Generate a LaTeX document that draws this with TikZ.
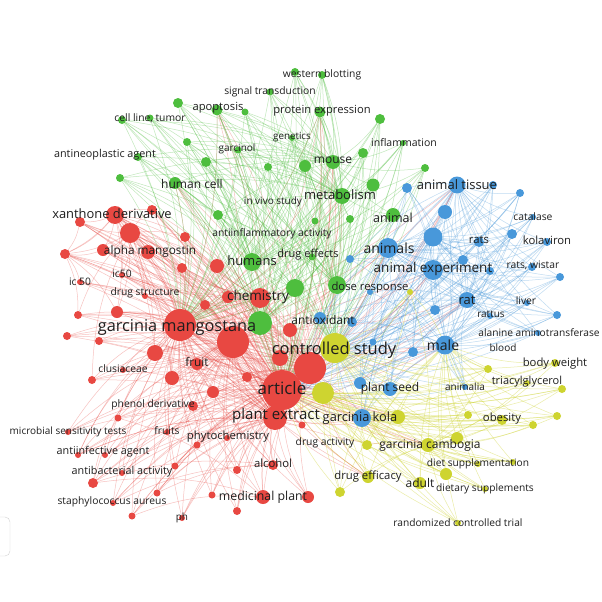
\documentclass[tikz,border=0pt]{standalone}
\usepackage{fontspec}
\setmainfont{Open Sans}
\pgfdeclarelayer{bg}
\pgfsetlayers{bg,main}
\definecolor{cR}{RGB}{232,72,66}
\definecolor{cG}{RGB}{78,190,62}
\definecolor{cB}{RGB}{72,152,218}
\definecolor{cY}{RGB}{206,212,48}
\definecolor{cT}{RGB}{30,30,30}
\newcommand\fsz[1]{\fontsize{#1}{#1}\selectfont}
\tikzset{
 dR/.style={circle,fill=cR,inner sep=0pt,minimum size=2*#1},
 dG/.style={circle,fill=cG,inner sep=0pt,minimum size=2*#1},
 dB/.style={circle,fill=cB,inner sep=0pt,minimum size=2*#1},
 dY/.style={circle,fill=cY,inner sep=0pt,minimum size=2*#1},
 lb/.style={text=cT,inner sep=0pt,font=\fsz{#1}},
 eR/.style={draw=cR,opacity=.33,line width=.5pt},
 eG/.style={draw=cG,opacity=.35,line width=.5pt},
 eB/.style={draw=cB,opacity=.35,line width=.5pt},
 eY/.style={draw=cY,opacity=.42,line width=.5pt},
}
\begin{document}
\begin{tikzpicture}[x=1pt,y=-1pt]
\useasboundingbox (0,0) rectangle (602,602);
% green nodes
\node[dG=4] (g1) at (322,75) {};
\node[dG=4] (g1b) at (295,72) {};
\node[dG=3.5] (g2) at (270,92) {};
\node[dG=5.5] (g3) at (217,110) {};
\node[dG=3.5] (g3b) at (245,112) {};
\node[dG=5] (g4) at (178,103) {};
\node[dG=5.5] (g5) at (320,112) {};
\node[dG=5] (g6) at (380,119) {};
\node[dG=4] (g7) at (122,120) {};
\node[dG=3.5] (g8) at (150,118) {};
\node[dG=3] (g9) at (292,138) {};
\node[dG=3] (g10) at (403,143) {};
\node[dG=3.5] (g11) at (238,150) {};
\node[dG=4] (g12) at (187,142) {};
\node[dG=4] (g13) at (138,157) {};
\node[dG=5] (g14) at (206,162) {};
\node[dG=4] (g15) at (268,167) {};
\node[dG=6] (g16) at (305,166) {};
\node[dG=7] (g17) at (333,162) {};
\node[dG=5] (g18) at (363,153) {};
\node[dG=4] (g19) at (425,168) {};
\node[dG=4] (g20) at (120,178) {};
\node[dG=6] (g21) at (175,183) {};
\node[dG=6.5] (g22) at (373,185) {};
\node[dG=8] (g23) at (342,196) {};
\node[dG=7] (g25) at (393,215) {};
\node[dG=4] (g26) at (350,219) {};
\node[dG=3.5] (g27) at (315,221) {};
\node[dG=5] (g28) at (218,215) {};
\node[dG=3.5] (g29) at (312,257) {};
\node[dG=9] (g30) at (252,262) {};
\node[dG=9] (g31) at (295,288) {};
\node[dG=9] (g32) at (337,285) {};
\node[dG=12] (g33) at (260,323) {};
% blue nodes
\node[dB=5] (b1) at (407,188) {};
\node[dB=8.5] (b2) at (457,185) {};
\node[dB=4] (b3) at (493,185) {};
\node[dB=4] (b4) at (520,193) {};
\node[dB=3] (b5) at (533,217) {};
\node[dB=7] (b6) at (445,212) {};
\node[dB=9.5] (b7) at (433,237) {};
\node[dB=5] (b8) at (512,234) {};
\node[dB=5] (b9) at (479,242) {};
\node[dB=4] (b10) at (547,242) {};
\node[dB=10] (b11) at (388,248) {};
\node[dB=4] (b12) at (350,259) {};
\node[dB=5] (b13) at (463,260) {};
\node[dB=10] (b14) at (433,270) {};
\node[dB=4] (b15) at (490,271) {};
\node[dB=4] (b16) at (532,267) {};
\node[dB=4] (b17) at (560,277) {};
\node[dB=3] (b18) at (370,292) {};
\node[dB=8] (b19) at (467,300) {};
\node[dB=3] (b20) at (527,303) {};
\node[dB=4] (b21) at (557,315) {};
\node[dB=5] (b22) at (435,310) {};
\node[dB=3] (b23) at (490,316) {};
\node[dB=6] (b24) at (320,318) {};
\node[dB=5] (b25) at (352,322) {};
\node[dB=3] (b26) at (538,333) {};
\node[dB=3.5] (b27) at (373,342) {};
\node[dB=5] (b28) at (413,352) {};
\node[dB=9.5] (b29) at (445,345) {};
\node[dB=6] (b30) at (360,383) {};
\node[dB=7] (b31) at (390,389) {};
\node[dB=3] (b32) at (465,387) {};
\node[dB=9] (b33) at (362,418) {};
% yellow nodes
\node[dY=3] (y1) at (410,292) {};
\node[dY=15] (y2) at (335,348) {};
\node[dY=11] (y3) at (323,393) {};
\node[dY=4] (y4) at (555,363) {};
\node[dY=4] (y5) at (488,369) {};
\node[dY=3] (y6) at (527,383) {};
\node[dY=4] (y7) at (562,389) {};
\node[dY=7] (y8) at (398,417) {};
\node[dY=4] (y9) at (468,415) {};
\node[dY=5] (y10) at (502,420) {};
\node[dY=4] (y11) at (557,416) {};
\node[dY=4] (y12) at (533,425) {};
\node[dY=5] (y13) at (367,445) {};
\node[dY=7] (y14) at (428,445) {};
\node[dY=6] (y15) at (457,438) {};
\node[dY=3] (y16) at (478,464) {};
\node[dY=3] (y17) at (513,462) {};
\node[dY=6] (y18) at (368,477) {};
\node[dY=6] (y19) at (420,483) {};
\node[dY=6] (y20) at (446,474) {};
\node[dY=3] (y21) at (485,489) {};
\node[dY=5] (y22) at (340,492) {};
\node[dY=3] (y23) at (458,523) {};
% red nodes
\node[dR=9] (r1) at (115,215) {};
\node[dR=5] (r2) at (80,222) {};
\node[dR=5] (r3) at (152,210) {};
\node[dR=10] (r4) at (130,233) {};
\node[dR=5] (r5) at (185,237) {};
\node[dR=6] (r6) at (103,250) {};
\node[dR=7] (r7) at (148,252) {};
\node[dR=5] (r8) at (65,254) {};
\node[dR=3] (r9) at (122,275) {};
\node[dR=3] (r10) at (80,282) {};
\node[dR=5] (r11) at (182,268) {};
\node[dR=7] (r12) at (217,266) {};
\node[dR=3] (r13) at (145,296) {};
\node[dR=6] (r14) at (228,297) {};
\node[dR=10] (r15) at (260,298) {};
\node[dR=5] (r16) at (205,305) {};
\node[dR=6] (r17) at (117,312) {};
\node[dR=4] (r18) at (78,315) {};
\node[dR=4] (r19) at (67,336) {};
\node[dR=4] (r20) at (99,341) {};
\node[dR=16] (r21) at (180,325) {};
\node[dR=16] (r22) at (233,342) {};
\node[dR=7] (r23) at (290,330) {};
\node[dR=8] (r24) at (155,353) {};
\node[dR=6] (r25) at (197,364) {};
\node[dR=3] (r26) at (123,370) {};
\node[dR=4] (r27) at (92,380) {};
\node[dR=7] (r28) at (172,378) {};
\node[dR=5] (r29) at (247,377) {};
\node[dR=6] (r30) at (213,392) {};
\node[dR=16] (r31) at (310,368) {};
\node[dR=8] (r32) at (280,358) {};
\node[dR=20] (r33) at (282,390) {};
\node[dR=5] (r34) at (193,406) {};
\node[dR=12] (r35) at (275,418) {};
\node[dR=3.5] (r36) at (118,418) {};
\node[dR=3] (r37) at (167,432) {};
\node[dR=3.5] (r38) at (302,425) {};
\node[dR=3.5] (r39) at (197,445) {};
\node[dR=3] (r40) at (227,438) {};
\node[dR=3] (r41) at (78,455) {};
\node[dR=3] (r42) at (105,455) {};
\node[dR=5] (r43) at (273,465) {};
\node[dR=3.5] (r44) at (175,466) {};
\node[dR=4] (r45) at (237,470) {};
\node[dR=3] (r46) at (122,473) {};
\node[dR=5] (r47) at (93,483) {};
\node[dR=3.5] (r48) at (157,493) {};
\node[dR=3.5] (r49) at (212,495) {};
\node[dR=7] (r50) at (263,497) {};
\node[dR=6] (r51) at (308,497) {};
\node[dR=3] (r52) at (113,503) {};
\node[dR=3.5] (r53) at (132,516) {};
\node[dR=4] (r54) at (237,511) {};
\node[dR=3] (r55) at (182,518) {};
\node[dR=3] (r56) at (68,432) {};
% background and edges
\begin{pgfonlayer}{bg}
\fill[white] (0,0) rectangle (602,602);
\draw[gray!35,rounded corners=5pt] (-10,517) rectangle (10,556);
\foreach \h in {r33,r21,r35,r22,r31}
 \foreach \n in {r1,r2,r3,r4,r5,r6,r7,r8,r9,r10,r11,r12,r13,r14,r15,r16,r17,r18,r19,r20,r23,r24,r25,r26,r27,r28,r29,r30,r32,r34,r36,r37,r38,r39,r40,r41,r42,r43,r44,r45,r46,r47,r48,r49,r50,r51,r52,r53,r54,r55,r56}
  \draw[eR] (\n) to[bend left=12] (\h);
\foreach \h in {r15,r1,r4}
 \foreach \n in {r2,r3,r5,r6,r7,r8,r9,r11,r12,r13,r14,r16,r17,r24,r25,r28}
  \draw[eR] (\n) to[bend right=10] (\h);
\foreach \a/\b in {r33/r21,r33/r35,r33/r22,r21/r22,r21/r35,r22/r35,r31/r21,r31/r33,r31/r35,r1/r8,r2/r8,r6/r8,r8/r10,r8/r18,r8/r17,r47/r43,r47/r50,r41/r35,r36/r50,r53/r50,r48/r43,r27/r4,r18/r4,r47/r36,r41/r24,r52/r43}
  \draw[eR] (\a) to[bend left=12] (\b);
\foreach \h in {r33,r21,r31,r22,r35}
 \foreach \n in {y2,y3,b11,b14,b29,b33,g23,g17,g30,g33,g21,g3,y14,b2,b19,g5,g31,g32,b24,y18,y8}
  \draw[eR] (\h) to[bend right=10] (\n);
\foreach \h in {g23,g17,g30,g33,r33,r21,g32,y2}
 \foreach \n in {g1,g1b,g2,g3,g3b,g4,g5,g6,g7,g8,g9,g10,g11,g12,g13,g14,g15,g16,g18,g19,g20,g21,g22,g25,g26,g27,g28,g29,g31}
  \draw[eG] (\n) to[bend left=10] (\h);
\foreach \h in {b14,b11,b29,b7,y2,b2,b19,r33}
 \foreach \n in {b1,b3,b4,b5,b6,b8,b9,b10,b12,b13,b15,b16,b17,b18,b20,b21,b22,b23,b24,b25,b26,b27,b28,b30,b31,b32,b33}
  \draw[eB] (\n) to[bend left=10] (\h);
\foreach \h in {y2,y3,y14,r33,b29,b33}
 \foreach \n in {y1,y4,y5,y6,y7,y8,y9,y10,y11,y12,y13,y15,y16,y17,y18,y19,y20,y21,y22,y23}
  \draw[eY] (\n) to[bend left=10] (\h);
\end{pgfonlayer}
% labels green
\node[lb=10.3] (l1) at (322,75) {western blotting};
\node[lb=10.3] (l2) at (270,92) {signal transduction};
\node[lb=11.2] (l3) at (218,108) {apoptosis};
\node[lb=11.2] (l4) at (322,111) {protein expression};
\node[lb=10.3] (l5) at (150,118) {cell line, tumor};
\node[lb=9.8] (l6) at (292,137) {genetics};
\node[lb=10.5] (l7) at (404,143) {inflammation};
\node[lb=10] (l8) at (237,149) {garcinol};
\node[lb=10.8] (l9) at (105,155) {antineoplastic agent};
\node[lb=12] (l10) at (333,160) {mouse};
\node[lb=12] (l11) at (192,184) {human cell};
\node[lb=13] (l12) at (340,195) {metabolism};
\node[lb=10] (l13) at (273,202) {in vivo study};
\node[lb=12.5] (l14) at (393,218) {animal};
\node[lb=10.3] (l15) at (272,234) {antiinflammatory activity};
\node[lb=13] (l16) at (252,261) {humans};
\node[lb=11] (l17) at (308,255) {drug effects};
\node[lb=11.3] (l18) at (370,288) {dose response};
% labels blue
\node[lb=13] (l19) at (457,185) {animal tissue};
\node[lb=10.3] (l20) at (533,217) {catalase};
\node[lb=14] (l21) at (389,248) {animals};
\node[lb=11.3] (l22) at (479,240) {rats};
\node[lb=11.3] (l23) at (547,240) {kolaviron};
\node[lb=10.3] (l24) at (533,265) {rats, wistar};
\node[lb=13.5] (l25) at (433,269) {animal experiment};
\node[lb=13] (l26) at (467,300) {rat};
\node[lb=10.3] (l27) at (526,301) {liver};
\node[lb=10] (l28) at (491,314) {rattus};
\node[lb=12] (l29) at (323,320) {antioxidant};
\node[lb=10.2] (l30) at (539,333) {alanine aminotransferase};
\node[lb=14] (l31) at (443,345) {male};
\node[lb=12] (l32) at (390,388) {plant seed};
\node[lb=12.8] (l33) at (360,418) {garcinia kola};
\node[lb=10] (l34) at (465,387) {animalia};
% labels yellow
\node[lb=16.5] (l35) at (334,350) {controlled study};
\node[lb=10] (l36) at (503,348) {blood};
\node[lb=11.3] (l37) at (555,364) {body weight};
\node[lb=11] (l38) at (527,382) {triacylglycerol};
\node[lb=11.3] (l39) at (502,419) {obesity};
\node[lb=12] (l40) at (430,445) {garcinia cambogia};
\node[lb=10.2] (l41) at (478,464) {diet supplementation};
\node[lb=11.3] (l42) at (368,477) {drug efficacy};
\node[lb=12] (l43) at (420,483) {adult};
\node[lb=10.2] (l44) at (485,489) {dietary supplements};
\node[lb=10.2] (l45) at (458,523) {randomized controlled trial};
\node[lb=10.3] (l46) at (325,443) {drug activity};
% labels red
\node[lb=12.9] (l47) at (112,214) {xanthone derivative};
\node[lb=11.8] (l48) at (150,251) {alpha mangostin};
\node[lb=10.3] (l49) at (122,274) {ic50};
\node[lb=10.3] (l50) at (80,282) {ic 50};
\node[lb=10.3] (l51) at (145,293) {drug structure};
\node[lb=16.3] (l52) at (177,327) {garcinia mangostana};
\node[lb=13.5] (l53) at (258,297) {chemistry};
\node[lb=11.8] (l54) at (197,362) {fruit};
\node[lb=10.3] (l55) at (123,369) {clusiaceae};
\node[lb=17] (l56) at (282,388) {article};
\node[lb=15] (l57) at (276,416) {plant extract};
\node[lb=10.3] (l58) at (153,405) {phenol derivative};
\node[lb=10] (l59) at (68,432) {microbial sensitivity tests};
\node[lb=10.3] (l60) at (167,431) {fruits};
\node[lb=11.3] (l61) at (228,437) {phytochemistry};
\node[lb=10.8] (l62) at (103,452) {antiinfective agent};
\node[lb=10.8] (l63) at (122,472) {antibacterial activity};
\node[lb=11.3] (l64) at (273,463) {alcohol};
\node[lb=12.3] (l65) at (263,497) {medicinal plant};
\node[lb=10.3] (l66) at (112,502) {staphylococcus aureus};
\node[lb=10] (l67) at (182,518) {ph};
\end{tikzpicture}
\end{document}
